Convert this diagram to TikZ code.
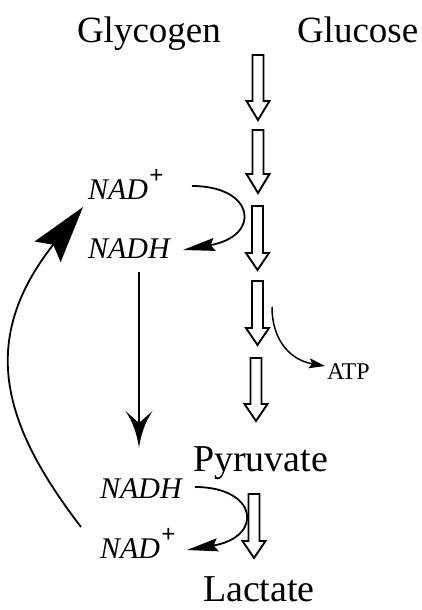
\documentclass[tikz,border=0pt]{standalone}
\usepackage{fontspec}
\setmainfont{Liberation Serif}
\usetikzlibrary{arrows.meta,calc}

\pgfdeclarearrow{
  name = Barb,
  setup code = {
    \pgfarrowssettipend{0pt}
    \pgfarrowssetlineend{-20pt}
    \pgfarrowssetvisualbackend{-25pt}
    \pgfarrowssetbackend{-37pt}
    \pgfarrowsupperhullpoint{-37pt}{13.5pt}
    \pgfarrowsupperhullpoint{0pt}{0pt}
  },
  drawing code = {
    \pgfpathmoveto{\pgfpoint{0pt}{0pt}}
    \pgfpathcurveto{\pgfpoint{-12pt}{1.5pt}}{\pgfpoint{-26pt}{6pt}}{\pgfpoint{-37pt}{13.5pt}}
    \pgfpathlineto{\pgfpoint{-25pt}{0pt}}
    \pgfpathlineto{\pgfpoint{-37pt}{-13.5pt}}
    \pgfpathcurveto{\pgfpoint{-26pt}{-6pt}}{\pgfpoint{-12pt}{-1.5pt}}{\pgfpoint{0pt}{0pt}}
    \pgfpathclose
    \pgfusepathqfill
  }
}

\newcommand\plusup{\kern1pt\raisebox{16pt}{\fontsize{25}{25}\selectfont\bfseries +}}

\begin{document}
\begin{tikzpicture}[x=1pt,y=-1pt,
  lbl/.style={anchor=base west,inner sep=0pt,outer sep=0pt},
  big/.style={lbl,font=\fontsize{37}{40}\selectfont},
  coenz/.style={lbl,font=\fontsize{30}{32}\selectfont\itshape},
  smalllbl/.style={lbl,font=\fontsize{24}{26}\selectfont},
  conn/.style={draw=black,line width=1.8pt},
  hollow/.style={draw=black,line width=1.9pt,fill=white,line join=miter,miter limit=10}
]
\path[use as bounding box,fill=white] (0,0) rectangle (422,610);

% labels
\node[big] (glycogen) at (77,43) {Glycogen};
\node[big] (glucose) at (297,43) {Glucose};
\node[coenz] (nadpA) at (88,199) {NAD\plusup};
\node[coenz] (nadhA) at (88,258) {NADH};
\node[smalllbl] (atp) at (327,379) {ATP};
\node[big,font=\fontsize{38}{40}\selectfont] (pyruvate) at (193,471) {Pyruvate};
\node[coenz] (nadhB) at (100,498) {NADH};
\node[coenz] (nadpB) at (100,558) {NAD\plusup};
\node[big,font=\fontsize{38}{40}\selectfont] (lactate) at (203,601) {Lactate};

% hollow pathway arrows
\foreach \x/\t/\h/\p in {258/55/101/120, 258/130/174/193, 257.5/206/253/270,
                          257.5/281/328/345, 256/358/404/421, 254/494/541/558}{
  \draw[hollow] (\x-5.5,\t) -- (\x+5.5,\t) -- (\x+5.5,\h) -- (\x+11.5,\h)
    -- (\x,\p) -- (\x-11.5,\h) -- (\x-5.5,\h) -- cycle;
}

\coordinate (atpsrc) at (272,307);

% NAD+ -> NADH (upper)
\draw[conn,-{Stealth[length=32pt,width=13pt,inset=4pt]}]
  ([shift={(104,-13)}]nadpA.base west) .. controls +(63,0) and +(79,-14) ..
  ([shift={(95,-8)}]nadhA.base west);

% NADH (upper) -> NADH (lower)
\draw[conn,line width=1.5pt,-Barb]
  ([shift={(51,14)}]nadhA.base west) -- ([shift={(39,-50)}]nadhB.base west);

% NADH -> NAD+ (lower)
\draw[conn,-{Stealth[length=31pt,width=13pt,inset=4pt]}]
  ([shift={(95,-11)}]nadhB.base west) .. controls +(63,0) and +(77,-13) ..
  ([shift={(87,-8)}]nadpB.base west);

% NAD+ (lower) -> NAD+ (upper)
\draw[conn,-{Stealth[length=57pt,width=33pt,inset=9pt]}]
  ([shift={(-19,-31)}]nadpB.base west) .. controls +(-79,-103) and +(-105,133) ..
  ([shift={(-5,8)}]nadpA.base west);

% ATP
\draw[conn,line width=1.5pt,-{Stealth[length=16pt,width=10pt,inset=3pt]}]
  (atpsrc) .. controls +(0,33) and +(-35,-6) .. ([shift={(-2,-13)}]atp.base west);
\end{tikzpicture}
\end{document}
